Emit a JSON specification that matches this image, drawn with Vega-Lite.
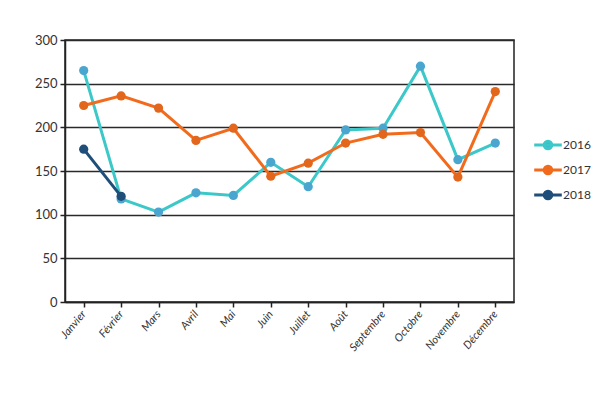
{
  "$schema": "https://vega.github.io/schema/vega-lite/v6.json",
  "autosize": "none",
  "width": 449,
  "height": 262,
  "padding": {"left": 65, "top": 40, "right": 86, "bottom": 98},
  "background": "white",
  "config": {
    "font": "Lato",
    "view": {"stroke": "#222", "strokeWidth": 1.5},
    "axis": {"labelFont": "Lato", "labelColor": "#333", "domainColor": "#222", "tickColor": "#222", "domainWidth": 1.5, "tickWidth": 1.5, "tickSize": 5}
  },
  "data": {
    "values": [
      {"mois": "Janvier", "annee": "2016", "valeur": 265},
      {"mois": "Février", "annee": "2016", "valeur": 118},
      {"mois": "Mars", "annee": "2016", "valeur": 103},
      {"mois": "Avril", "annee": "2016", "valeur": 125},
      {"mois": "Mai", "annee": "2016", "valeur": 122},
      {"mois": "Juin", "annee": "2016", "valeur": 160},
      {"mois": "Juillet", "annee": "2016", "valeur": 132},
      {"mois": "Août", "annee": "2016", "valeur": 197},
      {"mois": "Septembre", "annee": "2016", "valeur": 199},
      {"mois": "Octobre", "annee": "2016", "valeur": 270},
      {"mois": "Novembre", "annee": "2016", "valeur": 163},
      {"mois": "Décembre", "annee": "2016", "valeur": 182},
      {"mois": "Janvier", "annee": "2017", "valeur": 225},
      {"mois": "Février", "annee": "2017", "valeur": 236},
      {"mois": "Mars", "annee": "2017", "valeur": 222},
      {"mois": "Avril", "annee": "2017", "valeur": 185},
      {"mois": "Mai", "annee": "2017", "valeur": 199},
      {"mois": "Juin", "annee": "2017", "valeur": 144},
      {"mois": "Juillet", "annee": "2017", "valeur": 159},
      {"mois": "Août", "annee": "2017", "valeur": 182},
      {"mois": "Septembre", "annee": "2017", "valeur": 192},
      {"mois": "Octobre", "annee": "2017", "valeur": 194},
      {"mois": "Novembre", "annee": "2017", "valeur": 143},
      {"mois": "Décembre", "annee": "2017", "valeur": 241},
      {"mois": "Janvier", "annee": "2018", "valeur": 175},
      {"mois": "Février", "annee": "2018", "valeur": 121}
    ]
  },
  "encoding": {
    "x": {
      "field": "mois",
      "type": "nominal",
      "sort": ["Janvier", "Février", "Mars", "Avril", "Mai", "Juin", "Juillet", "Août", "Septembre", "Octobre", "Novembre", "Décembre"],
      "scale": {"paddingInner": 0, "paddingOuter": 0},
      "axis": {"title": null, "labelAngle": -50, "labelFontStyle": "italic", "labelFontSize": 11, "bandPosition": 0, "labelPadding": 5, "grid": false}
    },
    "y": {
      "field": "valeur",
      "type": "quantitative",
      "scale": {"domain": [0, 300], "nice": false},
      "axis": {"title": null, "values": [0, 50, 100, 150, 200, 250, 300], "labelFontSize": 13, "labelPadding": 3, "grid": true, "gridColor": "#2a2a2a", "gridWidth": 1.4}
    }
  },
  "layer": [
    {
      "mark": {"type": "line", "strokeWidth": 3},
      "encoding": {
        "stroke": {
          "field": "annee",
          "type": "nominal",
          "scale": {"domain": ["2016", "2017", "2018"], "range": ["#3cc8c8", "#f26b1d", "#1f4e79"]},
          "legend": {
            "title": null,
            "orient": "none",
            "legendX": 470,
            "legendY": 92,
            "symbolType": "M-1.2,0L1.2,0M-0.33,0a0.33,0.33 0 1,0 0.66,0a0.33,0.33 0 1,0 -0.66,0",
            "symbolSize": 529,
            "symbolStrokeWidth": 3,
            "rowPadding": 2,
            "labelFontSize": 12,
            "labelColor": "#333",
            "labelOffset": 2
          }
        }
      }
    },
    {
      "mark": {"type": "point", "filled": true, "size": 85, "opacity": 1},
      "encoding": {
        "fill": {
          "field": "annee",
          "type": "nominal",
          "scale": {"domain": ["2016", "2017", "2018"], "range": ["#4aa6cf", "#e2661b", "#1f4e79"]},
          "legend": null
        }
      }
    }
  ]
}
